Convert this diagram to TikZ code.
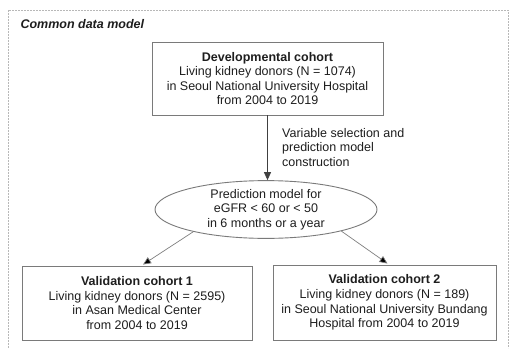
\documentclass[tikz,border=0pt]{standalone}
\usepackage{fontspec}
\setmainfont{Liberation Sans}
\usetikzlibrary{arrows.meta,shapes.geometric}
\definecolor{txt}{HTML}{1E1E1E}
\definecolor{bord}{HTML}{7A7A7A}
\definecolor{framec}{HTML}{B8B8B8}
\begin{document}
\begin{tikzpicture}[x=1pt,y=-1pt,
  font=\fontsize{12.5}{14.6}\selectfont, text=txt,
  box/.style={draw=bord, line width=0.9pt, rectangle, align=center, inner sep=0pt},
  oval/.style={draw=bord, line width=0.9pt, ellipse, align=center, inner sep=0pt},
  frame/.style={draw=framec, line width=1pt, dash pattern=on 2pt off 1pt},
  arrv/.style={draw=black!75, line width=0.8pt, -{Triangle[length=8pt,width=7pt]}},
  arrd/.style={draw=black!50, line width=0.7pt, -{Triangle[length=8pt,width=7pt,fill=black]}}]
\useasboundingbox (0,0) rectangle (511,348);
\fill[white] (0,0) rectangle (511,348);
\draw[frame] (8,348) -- (8,10) -- (508,10) -- (508,348);
\node[anchor=west, font=\fontsize{12.5}{14.6}\selectfont\bfseries\itshape] (title) at (17,24) {Common data model};
\node[box, minimum width=231pt, minimum height=73pt] (dev) at (267.5,78.5)
  {\textbf{Developmental cohort}\\Living kidney donors (N = 1074)\\in Seoul National University Hospital\\from 2004 to 2019};
\node[oval, minimum width=222pt, minimum height=55pt] (ell) at (266,209.5)
  {Prediction model for\\eGFR < 60 or < 50\\in 6 months or a year};
\node[box, minimum width=230pt, minimum height=74pt] (v1) at (137,303)
  {\textbf{Validation cohort 1}\\Living kidney donors (N = 2595)\\in Asan Medical Center\\from 2004 to 2019};
\node[box, minimum width=223pt, minimum height=75pt] (v2) at (384.5,302.5)
  {\textbf{Validation cohort 2}\\Living kidney donors (N = 189)\\in Seoul National University Bundang\\Hospital from 2004 to 2019};
\node[anchor=north west, align=left, inner sep=0pt] (lab) at (282,128)
  {Variable selection and\\prediction model\\construction};
\draw[arrv] (dev.south) -- (dev.south |- ell.north);
\draw[arrd] (ell.197) -- ([xshift=6pt,yshift=1pt]v1.north);
\draw[arrd] (ell.-16) -- ([xshift=3pt,yshift=1pt]v2.north);
\end{tikzpicture}
\end{document}
